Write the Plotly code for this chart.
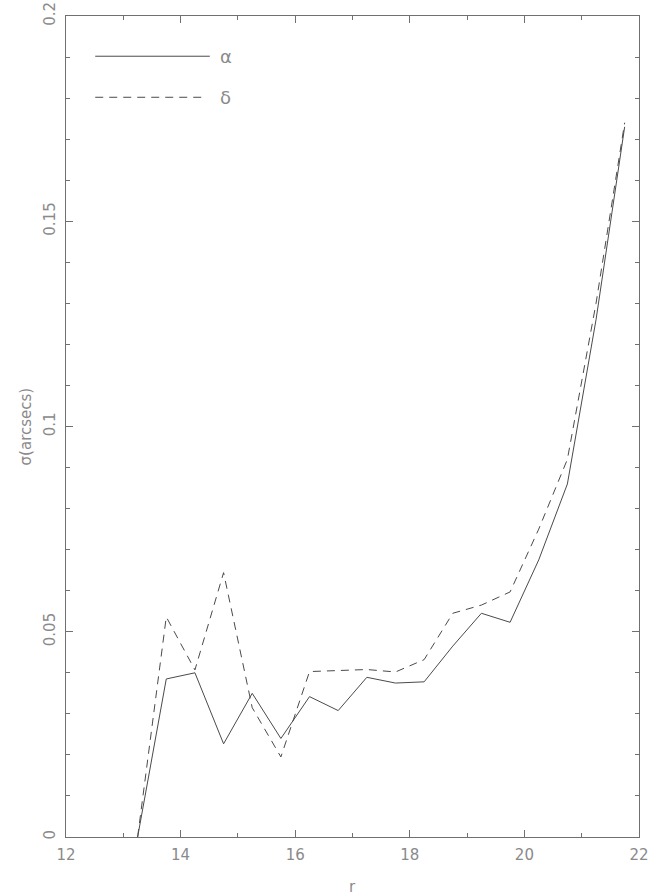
import plotly.graph_objects as go

# Astrometric scatter vs r magnitude, per coordinate
r_mag = [13.25, 13.75, 14.25, 14.75, 15.25, 15.75, 16.25, 16.75, 17.25,
         17.75, 18.25, 18.75, 19.25, 19.75, 20.25, 20.75, 21.25, 21.75]
sigma_alpha = [0.0, 0.0385, 0.0400, 0.0227, 0.0350, 0.0240, 0.0342, 0.0308, 0.0389,
               0.0375, 0.0378, 0.0465, 0.0545, 0.0523, 0.0675, 0.0860, 0.1260, 0.1730]
sigma_delta = [0.0, 0.0536, 0.0407, 0.0644, 0.0315, 0.0195, 0.0403, 0.0405, 0.0408,
               0.0402, 0.0432, 0.0545, 0.0565, 0.0597, 0.0750, 0.0920, 0.1300, 0.1740]

x_ticks = [12, 14, 16, 18, 20, 22]
y_ticks = [0, 0.05, 0.1, 0.15, 0.2]
y_tick_text = ["0", "0.05", "0.1", "0.15", "0.2"]

line_col = "#4a4a4a"
axis_col = "#707070"
text_col = "#8a8a8a"
font_family = "DejaVu Sans"

fig = go.Figure()
fig.add_trace(go.Scatter(x=r_mag, y=sigma_alpha, mode="lines",
                         line=dict(color=line_col, width=1), showlegend=False))
fig.add_trace(go.Scatter(x=r_mag, y=sigma_delta, mode="lines",
                         line=dict(color=line_col, width=1, dash="8px,6px"),
                         showlegend=False))

# Hand-drawn key in the upper-left corner
fig.add_shape(type="line", xref="paper", yref="paper",
              x0=0.051, x1=0.251, y0=0.951, y1=0.951,
              line=dict(color=line_col, width=1))
fig.add_shape(type="line", xref="paper", yref="paper",
              x0=0.051, x1=0.238, y0=0.901, y1=0.901,
              line=dict(color=line_col, width=1, dash="8px,6px"))
fig.add_annotation(xref="paper", yref="paper", x=0.265, y=0.951, text="α",
                   showarrow=False, xanchor="left", yanchor="middle",
                   font=dict(family=font_family, size=18, color=text_col))
fig.add_annotation(xref="paper", yref="paper", x=0.265, y=0.901, text="δ",
                   showarrow=False, xanchor="left", yanchor="middle",
                   font=dict(family=font_family, size=18, color=text_col))

# Axis titles
fig.add_annotation(xref="paper", yref="paper", x=0.5, y=-0.061, text="r",
                   showarrow=False, xanchor="center", yanchor="middle",
                   font=dict(family=font_family, size=15, color=text_col))
fig.add_annotation(xref="paper", yref="paper", x=-0.07, y=0.5, text="σ(arcsecs)",
                   textangle=-90, showarrow=False, xanchor="center", yanchor="middle",
                   font=dict(family=font_family, size=15, color=text_col))

axis_common = dict(
    showline=True, linecolor=axis_col, linewidth=1, mirror="allticks",
    ticks="inside", ticklen=7, tickcolor=axis_col, tickwidth=1,
    showgrid=False, zeroline=False, automargin=False,
    tickfont=dict(family=font_family, size=15, color=text_col),
)

fig.update_xaxes(
    range=[12, 22], tickvals=x_ticks, ticklabelstandoff=4,
    minor=dict(dtick=1, ticks="inside", ticklen=4, tickcolor=axis_col, showgrid=False),
    **axis_common,
)
fig.update_yaxes(
    range=[0, 0.2], tickvals=y_ticks, ticktext=y_tick_text, tickangle=-90,
    ticklabelstandoff=4,
    minor=dict(dtick=0.01, ticks="inside", ticklen=4, tickcolor=axis_col, showgrid=False),
    **axis_common,
)

fig.update_layout(
    width=665, height=896,
    margin=dict(l=66, r=26, t=16, b=59),
    paper_bgcolor="white", plot_bgcolor="white",
)

fig.write_html("out.html")
